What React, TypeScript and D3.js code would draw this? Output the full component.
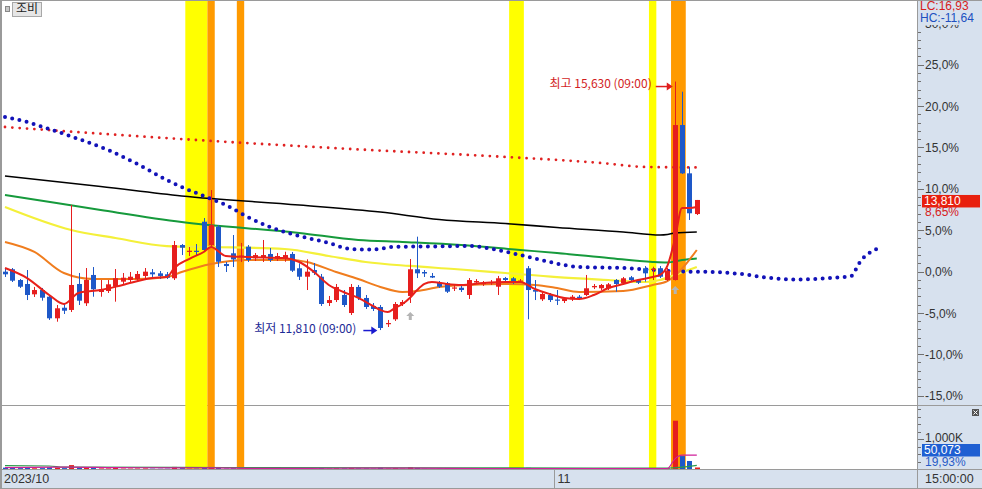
import React from "react";
import * as d3 from "d3";

const W = 982;
const H = 489;

// OHLC in % change vs. reference price
const candles: [number, number, number, number][] = [
  [-0.02, 0.42, -0.66, -0.34], [0.27, 0.42, -1.27, -1.11], [-1.03, -0.91, -1.99, -1.84], [-1.51, 0.18, -3.45, -2.84],
  [-2.76, -1.87, -3.08, -2.24], [-2.24, -1.99, -3.53, -3.17], [-3.05, -2.84, -5.86, -5.66], [-5.66, -4.05, -6.07, -4.45],
  [-4.38, -3.81, -5.14, -4.74], [-4.65, 8.04, -4.9, -1.63], [-1.51, -0.18, -4.05, -3.53], [-3.84, 0.42, -4.17, -1.03],
  [-0.42, 0.54, -3.05, -2.15], [-2.48, -1.03, -3.05, -2.15], [-2.36, -1.03, -2.6, -1.55], [-1.84, 0.3, -3.65, -0.82],
  [-1.23, -0.18, -1.63, -0.75], [-1.03, -0.06, -1.39, -0.63], [-0.94, 0.06, -1.15, -0.3], [-0.54, 0.42, -0.91, -0.02],
  [-0.1, 0.3, -0.66, -0.34], [-0.22, 0.06, -0.91, -0.54], [-0.34, -0.06, -0.91, -0.75], [-0.82, 3.69, -1.03, 3.2],
  [3.2, 3.32, 1.99, 2.88], [2.39, 2.96, 1.87, 2.51], [2.51, 3.32, 1.87, 2.36], [6.02, 6.47, 2.48, 2.6],
  [3.2, 9.85, 2.84, 5.62], [5.42, 5.62, 0.54, 1.18], [0.91, 1.15, -0.06, 0.66], [2.2, 4.41, 0.54, 1.47],
  [1.75, 3.45, 1.15, 1.93], [3.0, 3.2, 1.15, 1.39], [1.6, 2.24, 1.27, 1.99], [1.63, 3.81, 1.15, 1.99],
  [2.12, 2.84, 1.15, 1.39], [1.55, 2.24, 1.27, 1.87], [1.6, 2.39, 1.18, 1.99], [2.12, 2.36, -0.06, 0.1],
  [0.39, 0.99, -1.03, -0.63], [-0.63, 1.47, -2.24, -0.02], [0.18, 1.03, -0.42, -0.15], [-0.63, -0.3, -4.17, -3.93],
  [-3.81, -2.96, -4.17, -3.45], [-3.45, -1.51, -3.69, -1.87], [-2.84, -2.24, -4.29, -4.05], [-5.02, -1.51, -5.26, -1.87],
  [-1.87, -1.63, -3.45, -3.2], [-3.2, -2.84, -4.53, -4.29], [-4.17, -3.81, -4.78, -4.53], [-4.29, -4.05, -7.08, -6.83],
  [-6.35, -5.86, -6.71, -6.23], [-5.78, -3.69, -5.98, -3.93], [-3.93, -3.45, -4.17, -3.69], [-2.96, 1.51, -3.81, 0.27],
  [0.27, 4.21, -0.79, -0.22], [-0.06, 0.18, -0.66, -0.24], [-0.54, -0.18, -0.79, -0.73], [-1.35, -1.15, -1.99, -1.84],
  [-1.43, -1.27, -2.6, -2.44], [-2.06, -1.63, -2.36, -1.93], [-1.96, -1.75, -2.48, -2.24], [-2.84, -0.79, -3.32, -1.03],
  [-1.33, -0.91, -1.51, -1.15], [-1.51, -1.15, -1.75, -1.39], [-1.39, -1.03, -1.63, -1.27], [-1.84, -0.54, -2.84, -0.82],
  [-0.79, -0.66, -1.39, -1.03], [-0.82, -0.66, -1.51, -1.31], [-1.21, -0.91, -1.39, -1.09], [0.39, 0.66, -5.78, -2.24],
  [-2.24, -1.03, -3.45, -2.44], [-3.36, -2.48, -3.57, -2.72], [-2.84, -2.6, -3.69, -3.45], [-3.39, -2.24, -4.05, -3.51],
  [-3.57, -3.08, -3.81, -3.29], [-3.36, -2.84, -3.57, -3.05], [-3.05, -2.84, -3.45, -3.2], [-2.84, -0.42, -2.96, -2.03],
  [-1.91, -1.51, -2.12, -1.75], [-2.03, -1.51, -2.24, -1.63], [-2.03, -1.39, -2.24, -1.55], [-1.03, -0.91, -2.44, -1.51],
  [-1.43, -0.66, -1.63, -0.82], [-0.7, -0.54, -1.15, -1.03], [-1.03, -0.91, -1.51, -1.35], [0.39, 0.66, -1.23, -0.22],
  [0.21, 0.58, -1.03, 0.33], [0.39, 0.66, -0.79, -0.63], [-1.03, 0.42, -1.15, 0.1], [-1.03, 22.97, -1.09, 17.71],
  [17.71, 21.74, 11.79, 11.87], [11.87, 12.67, 6.23, 7.04], [6.95, 8.65, 6.83, 8.65],
];

// volume in thousands of shares
const volumes: number[] = [
  45, 35, 30, 55, 25, 30, 60, 45, 30,
  130,
  50, 60, 40, 20, 20, 35, 15, 15, 18, 20, 12, 10, 12,
  70,
  30, 15, 15, 40,
  60,
  45, 15, 25, 15, 20,
  10, 15, 12, 8, 10, 25, 20, 20, 10,
  35, 15, 25, 20, 30, 20, 20, 12, 45, 15, 30, 12,
  60,
  35, 10, 8, 12, 15, 6, 8, 20, 6, 5, 6, 15, 8, 10, 8,
  40,
  10, 12, 10, 8, 6, 8, 5, 18, 5, 8, 8, 10, 12, 6, 5, 15, 8, 15, 20,
  1610, 430, 267, 50.073,
];

// moving averages / indicator lines: [bar index, % value]
const maRed: [number, number][] = [
  [0, 0.42], [3, -0.79], [6, -2.84], [8, -3.93], [10, -2.6], [13, -2.24], [16, -1.63], [20, -0.79], [22, -0.67],
  [23, 0.42], [25, 1.51], [27, 2.36], [28, 2.96], [30, 1.87], [33, 1.75], [38, 1.63], [40, 1.15], [42, -0.06],
  [44, -1.63], [46, -2.48], [48, -3.2], [50, -4.17], [51, -4.65], [52, -4.9], [53, -4.41], [54, -3.93], [55, -3.2],
  [56, -2.24], [57, -1.51], [58, -1.27], [60, -1.51], [62, -1.63], [65, -1.39], [68, -1.27], [70, -1.27], [72, -2.12],
  [74, -2.72], [76, -3.2], [78, -3.33], [80, -2.84], [82, -2.0], [84, -1.51], [86, -1.03], [88, -0.67], [89, -0.42],
  [90, 0.67], [91, 3.81], [92, 7.68], [93, 7.68], [94, 7.8],
];
const maOrange: [number, number][] = [
  [0, 3.57], [4, 2.36], [8, -0.18], [12, -0.91], [18, -0.91], [22, -0.67], [24, -0.06], [28, 0.91], [33, 1.39],
  [39, 1.39], [41, 1.15], [45, -0.06], [48, -0.91], [51, -1.87], [54, -2.48], [56, -2.36], [59, -1.87], [63, -1.63],
  [68, -1.51], [72, -1.63], [75, -2.0], [78, -2.48], [84, -2.36], [88, -1.63], [90, -1.15], [91, -0.54], [94, 2.6],
];
const maYellow: [number, number][] = [
  [0, 7.8], [9, 5.02], [15, 4.05], [22, 3.08], [28, 2.96], [38, 2.72], [44, 1.87], [49, 1.15], [55, 0.67],
  [61, 0.3], [68, -0.18], [75, -0.67], [82, -1.03], [87, -1.27], [89, -1.03], [91, -0.42], [94, 0.54],
];
const maGreen: [number, number][] = [
  [0, 9.25], [7, 8.28], [13, 7.44], [24, 5.99], [40, 4.66], [48, 3.81], [54, 3.57], [62, 3.2], [70, 2.6],
  [75, 2.24], [82, 1.63], [88, 1.15], [90, 1.09], [92, 1.39], [94, 1.57],
];
const maBlack: [number, number][] = [
  [0, 11.55], [13, 10.28], [24, 9.13], [40, 8.04], [51, 7.19], [59, 6.29], [68, 5.8], [75, 5.32], [84, 4.78],
  [89, 4.41], [90, 4.47], [91, 4.66], [94, 4.78],
];
const redDotted: [number, number][] = [
  [0, 17.47], [26, 15.9], [47, 14.81], [68, 13.85], [81, 13.12], [87, 12.64], [94, 12.58],
];
const blueDotted: [number, number][] = [
  [0, 18.68], [3, 18.08], [6, 17.23], [10, 16.02], [14, 14.69], [18, 13.0], [22, 11.06], [24, 10.22], [27, 9.13],
  [30, 8.04], [33, 6.59], [36, 5.38], [40, 4.29], [44, 3.45], [47, 2.72], [50, 2.66], [53, 3.0], [58, 3.02],
  [63, 3.08], [66, 2.76], [70, 2.0], [74, 1.15], [78, 0.54], [84, 0.42], [88, 0.18], [92, 0.0], [96, -0.06],
  [100, -0.3], [104, -0.79], [108, -0.97], [112, -0.79], [115, -0.54], [116, 0.91], [117, 2.0], [118, 2.48], [119, 3.08],
];

// volume moving averages [bar index, K]
const volMaMagenta: [number, number][] = [
  [0, 45], [9, 60], [15, 45], [23, 40], [28, 40], [35, 18], [45, 25], [55, 30], [65, 15], [75, 12], [85, 10],
  [90, 14], [91, 330], [92, 460], [93, 460], [94, 460],
];
const volMaGreen: [number, number][] = [
  [0, 110], [6, 100], [8, 60], [30, 50], [60, 40], [80, 30], [90, 30], [94, 120],
];

// highlighted bar ranges
const yellowBands: [number, number][] = [[25, 27], [69, 70], [88, 88]];
const orangeBands: [number, number][] = [[28, 28], [32, 32], [91, 92]];
const signalArrows: [number, number][] = [[55, -4.9], [91, -1.75]];

const yTickValues = [-15, -10, -5, 0, 5, 10, 15, 20, 25, 30];
const dateTicks: { i: number; label: string }[] = [{ i: 0, label: "2023/10" }, { i: 75, label: "11" }];
const lastTime = "15:00:00";
const stockName = "조비";
const highInfo = { i: 91, price: 15630, pct: 22.97, time: "09:00" };
const lowInfo = { i: 51, price: 11810, pct: -7.08, time: "09:00" };
const lastPrice = 13810;
const lastPct = 8.65;
const lastVolume = 50073;
const lastVolPct = 19.93;
const lcValue = 16.93;
const hcValue = -11.64;

const RED = "#e61e1e";
const BLUE = "#1e58c8";
const PANEL = "#d7e1ee";
const GRID = "#9a9a9a";
const NUMFONT = "'Liberation Sans', Arial, sans-serif";
const KRFONT = "'Noto Sans CJK KR', 'Noto Sans', sans-serif";

export default function App() {
  const x = d3.scaleLinear().domain([0, 94]).range([5, 696.8]);
  const step = x(1) - x(0);
  const y = d3.scaleLinear().domain([0, 25]).range([271.5, 64.75]);
  const yv = d3.scaleLinear().domain([0, 1000]).range([469, 439]);

  const line = d3
    .line<[number, number]>()
    .x((d) => x(d[0]))
    .y((d) => y(d[1]))
    .curve(d3.curveMonotoneX);
  const vline = d3
    .line<[number, number]>()
    .x((d) => x(d[0]))
    .y((d) => yv(d[1]))
    .curve(d3.curveMonotoneX);

  const comma = (v: number, digits: number) => v.toFixed(digits).replace(".", ",");
  const fmtInt = d3.format(",");

  const minorTicks = d3.range(-17, 32, 1);
  const volTicks = d3.range(0, 2001, 250);

  const arrowPath = (cx: number, top: number) =>
    `M${cx},${top} L${cx + 4},${top + 4} L${cx + 1.5},${top + 4} L${cx + 1.5},${top + 8} L${cx - 1.5},${top + 8} L${cx - 1.5},${top + 4} L${cx - 4},${top + 4} Z`;

  const hx = x(highInfo.i);
  const hy = y(highInfo.pct);
  const lx = x(lowInfo.i);
  const ly = y(lowInfo.pct);

  return (
    <svg
      width={W}
      height={H}
      style={{ position: "absolute", left: 0, top: 0, background: "#fff" }}
      xmlns="http://www.w3.org/2000/svg"
    >
      <defs>
        <clipPath id="plot">
          <rect x={2} y={1} width={915} height={468} />
        </clipPath>
        <clipPath id="vol">
          <rect x={2} y={406} width={915} height={63} />
        </clipPath>
      </defs>
      <rect x={0} y={0} width={W} height={H} fill="#fff" />

      {/* separators */}
      <line x1={0} x2={W} y1={405.5} y2={405.5} stroke={GRID} />

      {/* highlight bands */}
      <g clipPath="url(#plot)">
        {yellowBands.map(([a, b], k) => (
          <rect key={"yb" + k} x={x(a) - step / 2} y={1} width={x(b) - x(a) + step} height={468} fill="#ffff00" />
        ))}
        {orangeBands.map(([a, b], k) => (
          <rect key={"ob" + k} x={x(a) - step / 2} y={1} width={x(b) - x(a) + step} height={468} fill="#ff9a00" />
        ))}
      </g>

      {/* price lines */}
      <g clipPath="url(#plot)" fill="none">
        <path d={line(maBlack) || ""} stroke="#000" strokeWidth={1.6} />
        <path d={line(maGreen) || ""} stroke="#169a3c" strokeWidth={2} />
        <path d={line(maYellow) || ""} stroke="#f4f03a" strokeWidth={2.2} />
        <path d={line(maOrange) || ""} stroke="#f07d1e" strokeWidth={2} />
        <path
          d={line(redDotted) || ""}
          stroke="#e02222"
          strokeWidth={2.8}
          strokeLinecap="round"
          strokeDasharray={`0 ${step}`}
        />
        <path
          d={line(blueDotted) || ""}
          stroke="#1212b8"
          strokeWidth={4}
          strokeLinecap="round"
          strokeDasharray={`0 ${step}`}
        />
      </g>

      {/* candles */}
      <g>
        {candles.map(([o, h, l, c], i) => {
          const up = c >= o;
          const col = up ? RED : BLUE;
          const cx = Math.round(x(i));
          const top = y(Math.max(o, c));
          const bot = y(Math.min(o, c));
          return (
            <g key={"c" + i}>
              <line x1={cx + 0.5} x2={cx + 0.5} y1={y(h)} y2={y(l)} stroke={col} strokeWidth={1} />
              <rect x={cx - 2} y={top} width={5} height={Math.max(1.2, bot - top)} fill={col} />
            </g>
          );
        })}
      </g>

      <path d={line(maRed) || ""} fill="none" stroke="#e8201a" strokeWidth={2} clipPath="url(#plot)" />

      {/* signal arrows */}
      {signalArrows.map(([i, v], k) => (
        <path key={"sa" + k} d={arrowPath(x(i) + 0.5, y(v))} fill="#b4b4b4" />
      ))}

      {/* high / low annotations */}
      <text
        x={hx - 23}
        y={hy + 3.5}
        textAnchor="end"
        dominantBaseline="middle"
        fontFamily={KRFONT}
        fontSize={12}
        fill="#d21e1e"
      >
        {`최고 ${fmtInt(highInfo.price)} (${highInfo.time})`}
      </text>
      <line x1={hx - 19} x2={hx - 6} y1={hy + 5} y2={hy + 5} stroke="#e01e1e" strokeWidth={1.5} />
      <path d={`M${hx - 2},${hy + 5} L${hx - 8},${hy + 1} L${hx - 8},${hy + 9} Z`} fill="#e01e1e" />

      <text
        x={lx - 24}
        y={ly}
        textAnchor="end"
        dominantBaseline="middle"
        fontFamily={KRFONT}
        fontSize={12}
        fill="#1c2a96"
      >
        {`최저 ${fmtInt(lowInfo.price)} (${lowInfo.time})`}
      </text>
      <line x1={lx - 17} x2={lx - 8} y1={ly + 0.5} y2={ly + 0.5} stroke="#1a1ad0" strokeWidth={1.5} />
      <path d={`M${lx - 3},${ly + 0.5} L${lx - 9},${ly - 3.5} L${lx - 9},${ly + 4.5} Z`} fill="#1a1ad0" />

      {/* volume */}
      <g clipPath="url(#vol)">
        {volumes.map((v, i) => {
          const [o, , , c] = candles[i];
          const col = c >= o ? RED : BLUE;
          const cx = Math.round(x(i));
          const top = yv(v);
          return <rect key={"v" + i} x={cx - 2} y={top} width={5} height={Math.max(0.8, yv(0) - top)} fill={col} />;
        })}
        <path d={vline(volMaGreen) || ""} fill="none" stroke="#2a9a4a" strokeWidth={1.2} />
        <path d={vline(volMaMagenta) || ""} fill="none" stroke="#d0209a" strokeWidth={1.2} />
      </g>

      {/* right axis panel */}
      <rect x={918} y={0} width={64} height={H} fill={PANEL} />
      <line x1={917.5} x2={917.5} y1={0} y2={H} stroke={GRID} />
      <line x1={918} x2={W} y1={405.5} y2={405.5} stroke={GRID} />
      {minorTicks.map((t) => {
        const major = t % 5 === 0;
        const yy = Math.round(y(t)) + 0.5;
        if (yy < 2 || yy > 403) return null;
        return <line key={"mt" + t} x1={918} x2={major ? 924 : 921} y1={yy} y2={yy} stroke="#707070" />;
      })}
      {yTickValues.map((t) => (
        <text
          key={"yl" + t}
          x={925}
          y={y(t) + 1.5}
          dominantBaseline="middle"
          fontFamily={NUMFONT}
          fontSize={12}
          fill="#333"
        >
          {`${comma(t, 1)}%`}
        </text>
      ))}
      {volTicks.map((t) => {
        const yy = Math.round(yv(t)) + 0.5;
        if (yy < 407) return null;
        return <line key={"vt" + t} x1={918} x2={t === 1000 ? 924 : 921} y1={yy} y2={yy} stroke="#707070" />;
      })}
      <text x={925} y={yv(1000)} dominantBaseline="middle" fontFamily={NUMFONT} fontSize={12} fill="#333">
        {`${fmtInt(1000)}K`}
      </text>

      {/* LC / HC */}
      <rect x={918} y={0} width={64} height={25} fill={PANEL} />
      <text x={920} y={7} dominantBaseline="middle" fontFamily={NUMFONT} fontSize={12} fill="#d62020">
        {`LC:${comma(lcValue, 2)}`}
      </text>
      <text x={920} y={19} dominantBaseline="middle" fontFamily={NUMFONT} fontSize={12} fill="#2050c0">
        {`HC:${comma(hcValue, 2)}`}
      </text>

      {/* last price box */}
      <rect x={922} y={y(lastPct) - 5} width={58} height={12.5} fill="#e8200e" />
      <text x={924} y={y(lastPct) + 1.5} dominantBaseline="middle" fontFamily={NUMFONT} fontSize={12} fill="#fff">
        {fmtInt(lastPrice)}
      </text>
      <text x={925} y={y(lastPct) + 13} dominantBaseline="middle" fontFamily={NUMFONT} fontSize={12} fill="#d62020">
        {`${comma(lastPct, 2)}%`}
      </text>

      {/* last volume box */}
      <rect x={922} y={444} width={58} height={12.5} fill="#1f5fd2" />
      <text x={924} y={450.5} dominantBaseline="middle" fontFamily={NUMFONT} fontSize={12} fill="#fff">
        {fmtInt(lastVolume)}
      </text>
      <text x={925} y={462.5} dominantBaseline="middle" fontFamily={NUMFONT} fontSize={12} fill="#2a5cc8">
        {`${comma(lastVolPct, 2)}%`}
      </text>

      {/* close icon */}
      <rect x={972} y={409} width={7} height={7} fill="#555" />
      <path d="M973.5,410.5 L977.5,414.5 M977.5,410.5 L973.5,414.5" stroke="#fff" strokeWidth={1} />

      {/* bottom time axis */}
      <rect x={0} y={469.5} width={W} height={19.5} fill={PANEL} />
      <line x1={0} x2={W} y1={469.5} y2={469.5} stroke={GRID} />
      <line x1={0} x2={W} y1={488.5} y2={488.5} stroke={GRID} />
      <line x1={917.5} x2={917.5} y1={469} y2={489} stroke={GRID} />
      {dateTicks.map((d, k) => {
        const px = k === 0 ? 4 : Math.round(x(d.i) - step / 2) + 1.5;
        return (
          <g key={"dt" + k}>
            {k > 0 && <line x1={px} x2={px} y1={470} y2={488} stroke={GRID} />}
            <text x={k === 0 ? 4 : px + 3} y={479.5} dominantBaseline="middle" fontFamily={NUMFONT} fontSize={12.5} fill="#333">
              {d.label}
            </text>
          </g>
        );
      })}
      <text x={925} y={479.5} dominantBaseline="middle" fontFamily={NUMFONT} fontSize={12.5} fill="#333">
        {lastTime}
      </text>

      {/* frame */}
      <line x1={1} x2={1} y1={0} y2={H} stroke={GRID} strokeWidth={2} />
      <line x1={0} x2={W} y1={0.5} y2={0.5} stroke={GRID} />

      {/* name button */}
      <rect x={5.5} y={6.5} width={4} height={5} fill="#c8c8c8" stroke="#888" />
      <rect x={12.5} y={2.5} width={29} height={14} fill="#e6e6e6" stroke="#a8a8a8" />
      <text x={27} y={10} textAnchor="middle" dominantBaseline="middle" fontFamily={KRFONT} fontSize={12} fill="#222">
        {stockName}
      </text>
    </svg>
  );
}
